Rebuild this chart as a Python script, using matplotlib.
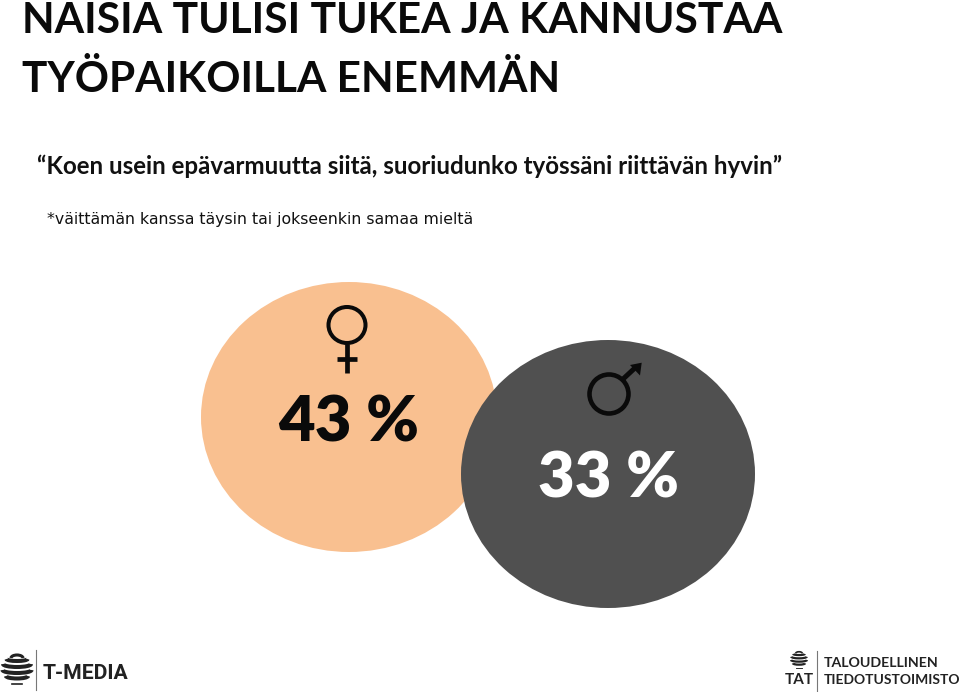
import matplotlib
matplotlib.use("Agg")
import matplotlib.pyplot as plt
from matplotlib.patches import Ellipse, Arc, Polygon

plt.rcParams['font.family'] = ['Lato', 'DejaVu Sans']

# data
title_lines = ["NAISIA TULISI TUKEA JA KANNUSTAA", "TYÖPAIKOILLA ENEMMÄN"]
quote = "“Koen usein epävarmuutta siitä, suoriudunko työssäni riittävän hyvin”"
note = "*väittämän kanssa täysin tai jokseenkin samaa mieltä"
shares = [43, 33]
share_colors = ["#F9C090", "#505050"]
text_colors = ["#0a0a0a", "#ffffff"]

W, H = 960, 692
fig = plt.figure(figsize=(W / 100, H / 100), dpi=100)
ax = fig.add_axes([0, 0, 1, 1])
ax.set_xlim(0, W)
ax.set_ylim(H, 0)
ax.axis('off')


# striped globe used by both logos, arcs curve downwards
def globe(cx, cy, s):
    ax.add_patch(Arc((cx, cy - 12 * s), 12 * s, 6 * s, theta1=180, theta2=360, color='#222222', lw=2.2 * s))
    for dy, w, h in [(-11, 21, 4), (-6, 28, 6), (0, 29, 6), (6, 22, 5)]:
        ax.add_patch(Arc((cx, cy + dy * s), w * s, h * s, theta1=0, theta2=180, color='#222222', lw=2.9 * s))
    ax.plot([cx - 5 * s, cx + 5 * s], [cy + 14 * s, cy + 14 * s], color='#222222', lw=1.2 * s)


# headings
ax.text(22, 33, title_lines[0], fontsize=30.6, fontweight='bold', color='#0a0a0a', va='baseline')
ax.text(22, 92, title_lines[1], fontsize=30.5, fontweight='bold', color='#0a0a0a', va='baseline')
ax.text(37, 174, quote, fontsize=17.35, fontweight='bold', color='#111111', va='baseline')
ax.text(47, 224, note, fontsize=11.35, family=['DejaVu Sans'], color='#111111', va='baseline')

# the two circles
ax.add_patch(Ellipse((349, 417), 296, 270, fc=share_colors[0], ec='none', zorder=1))
ax.add_patch(Ellipse((608, 474), 294, 268, fc=share_colors[1], ec='none', zorder=2))

ax.text(349, 442, f"{shares[0]} %", fontsize=45.5, fontweight='heavy', color=text_colors[0],
        ha='center', va='baseline', zorder=3)
ax.text(608, 498, f"{shares[1]} %", fontsize=45.5, fontweight='heavy', color=text_colors[1],
        ha='center', va='baseline', zorder=3)

# female symbol
ax.add_patch(Ellipse((347, 325), 37, 36, fc='none', ec='#0a0a0a', lw=2.9, zorder=3))
ax.plot([347, 347], [344, 373], color='#0a0a0a', lw=3.4, solid_capstyle='butt', zorder=3)
ax.plot([337, 357], [359, 359], color='#0a0a0a', lw=3.4, solid_capstyle='butt', zorder=3)

# male symbol
ax.add_patch(Ellipse((609, 394), 39, 39, fc='none', ec='#0a0a0a', lw=3.3, zorder=3))
ax.plot([622, 636], [380, 367], color='#0a0a0a', lw=3.6, solid_capstyle='butt', zorder=3)
ax.add_patch(Polygon([(641.7, 362.7), (630, 365), (640, 375.5)], fc='#0a0a0a', ec='none', zorder=3))

# T-MEDIA logo
globe(17, 670, 1)
ax.plot([36, 36], [650, 690], color='#777777', lw=0.8)
ax.text(43, 679, "T-MEDIA", fontsize=15.2, fontweight='bold', family=['Roboto'], color='#222222', va='baseline')

# TAT logo
globe(799, 660, 0.55)
ax.text(799, 684, "TAT", fontsize=11, fontweight='bold', color='#222222', ha='center', va='baseline')
ax.plot([817, 817], [651, 691], color='#777777', lw=0.8)
ax.text(824, 667, "TALOUDELLINEN", fontsize=10.2, fontweight='bold', color='#222222', va='baseline')
ax.text(824, 684, "TIEDOTUSTOIMISTO", fontsize=10.0, fontweight='bold', color='#222222', va='baseline')

fig.savefig("out.png", dpi=100)
